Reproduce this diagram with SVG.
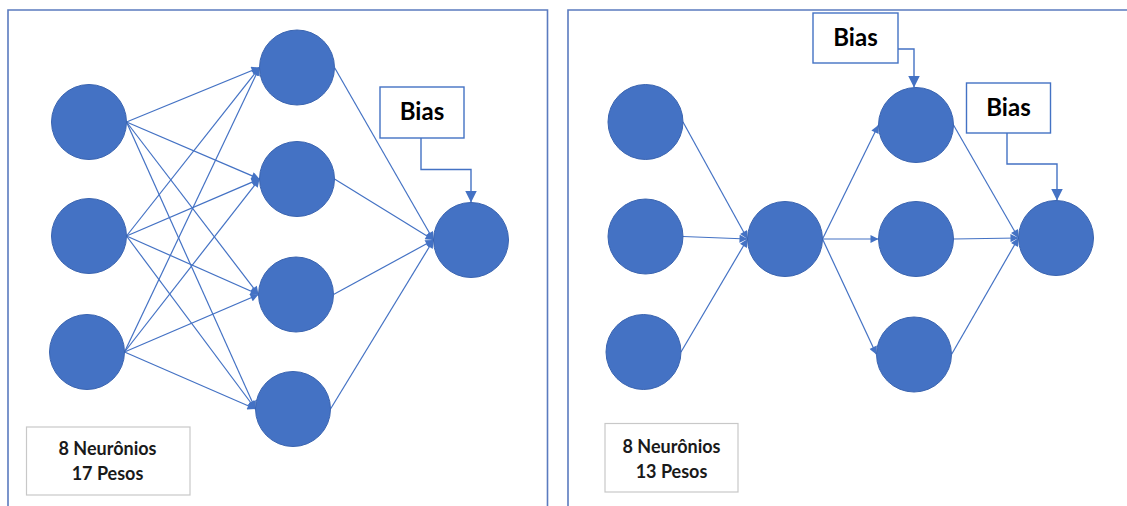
<svg xmlns="http://www.w3.org/2000/svg" width="1127" height="506" viewBox="0 0 1127 506">
  <style>
    .frame { fill: none; stroke: #5B7BBF; stroke-width: 1.6; }
    .neuron { fill: #4472C4; stroke: #3A64B0; stroke-width: 1; }
    .edge { fill: none; stroke: #4472C4; stroke-width: 1.2; marker-end: url(#arrow); }
    .bias-link { fill: none; stroke: #4472C4; stroke-width: 1.4; marker-end: url(#arrowBig); }
    .bias-box { fill: #FFFFFF; stroke: #4472C4; stroke-width: 1.4; }
    .count-box { fill: #FFFFFF; stroke: #C8C8C8; stroke-width: 1.2; }
    .bias-text { font-family: Lato, "Liberation Sans", sans-serif; font-weight: bold; font-size: 24px; fill: #000000; text-anchor: middle; }
    .count-text { font-family: Lato, "Liberation Sans", sans-serif; font-weight: bold; font-size: 18px; fill: #1A1A1A; text-anchor: middle; }
  </style>
  <defs>
    <marker id="arrow" viewBox="0 0 10 10" refX="10" refY="5" markerWidth="9" markerHeight="8" markerUnits="userSpaceOnUse" orient="auto">
      <path d="M0,0 L10,5 L0,10 z" fill="#4472C4"/>
    </marker>
    <marker id="arrowBig" viewBox="0 0 10 10" refX="10" refY="5" markerWidth="12" markerHeight="12" markerUnits="userSpaceOnUse" orient="auto">
      <path d="M0,0 L10,5 L0,10 z" fill="#4472C4"/>
    </marker>
  </defs>

  <rect width="1127" height="506" fill="#FFFFFF"/>

  <!-- panel frames -->
  <g id="frames">
    <path class="frame" d="M8,512 V10 H547.5 V512"/>
    <path class="frame" d="M568,512 V10 H1132"/>
  </g>

  <!-- connectors -->
  <g id="connectors">
    <!-- left network: inputs to hidden layer -->
    <line class="edge" x1="126.5" y1="122" x2="259.5" y2="67.5"/>
    <line class="edge" x1="126.5" y1="122" x2="259.5" y2="179"/>
    <line class="edge" x1="126.5" y1="122" x2="258.5" y2="294.5"/>
    <line class="edge" x1="126.5" y1="122" x2="255.5" y2="409"/>
    <line class="edge" x1="126.5" y1="236" x2="259.5" y2="67.5"/>
    <line class="edge" x1="126.5" y1="236" x2="259.5" y2="179"/>
    <line class="edge" x1="126.5" y1="236" x2="258.5" y2="294.5"/>
    <line class="edge" x1="126.5" y1="236" x2="255.5" y2="409"/>
    <line class="edge" x1="124.5" y1="352" x2="259.5" y2="67.5"/>
    <line class="edge" x1="124.5" y1="352" x2="259.5" y2="179"/>
    <line class="edge" x1="124.5" y1="352" x2="258.5" y2="294.5"/>
    <line class="edge" x1="124.5" y1="352" x2="255.5" y2="409"/>
    <!-- left network: hidden layer to output -->
    <line class="edge" x1="334.5" y1="67.5" x2="433.5" y2="240"/>
    <line class="edge" x1="334.5" y1="179" x2="433.5" y2="240"/>
    <line class="edge" x1="333.5" y1="294.5" x2="433.5" y2="240"/>
    <line class="edge" x1="330.5" y1="409" x2="433.5" y2="240"/>
    <!-- left network: bias -->
    <path class="bias-link" d="M421,138 V169.5 H471 V202.5"/>

    <!-- right network: inputs to single neuron -->
    <line class="edge" x1="683" y1="122" x2="747.5" y2="239"/>
    <line class="edge" x1="683" y1="236.5" x2="747.5" y2="239"/>
    <line class="edge" x1="681" y1="352" x2="747.5" y2="239"/>
    <!-- right network: single neuron to second layer -->
    <line class="edge" x1="822.5" y1="239" x2="878.5" y2="125"/>
    <line class="edge" x1="822.5" y1="239" x2="878.5" y2="239"/>
    <line class="edge" x1="822.5" y1="239" x2="876.5" y2="354.5"/>
    <!-- right network: second layer to output -->
    <line class="edge" x1="953.5" y1="125" x2="1018.5" y2="238"/>
    <line class="edge" x1="953.5" y1="239" x2="1018.5" y2="238"/>
    <line class="edge" x1="951.5" y1="354.5" x2="1018.5" y2="238"/>
    <!-- right network: biases -->
    <path class="bias-link" d="M898,49 H914 V87.5"/>
    <path class="bias-link" d="M1007,133 V164 H1057 V200.5"/>
  </g>

  <!-- left network nodes -->
  <g id="left-in-1"><circle class="neuron" cx="89" cy="122" r="37.5"/></g>
  <g id="left-in-2"><circle class="neuron" cx="89" cy="236" r="37.5"/></g>
  <g id="left-in-3"><circle class="neuron" cx="87" cy="352" r="37.5"/></g>
  <g id="left-hid-1"><circle class="neuron" cx="297" cy="67.5" r="37.5"/></g>
  <g id="left-hid-2"><circle class="neuron" cx="297" cy="179" r="37.5"/></g>
  <g id="left-hid-3"><circle class="neuron" cx="296" cy="294.5" r="37.5"/></g>
  <g id="left-hid-4"><circle class="neuron" cx="293" cy="409" r="37.5"/></g>
  <g id="left-out"><circle class="neuron" cx="471" cy="240" r="37.5"/></g>
  <g id="left-bias">
    <rect class="bias-box" x="380" y="87" width="84" height="51"/>
    <text class="bias-text" x="422" y="120">Bias</text>
  </g>
  <g id="left-count">
    <rect class="count-box" x="26.5" y="427" width="163.5" height="68"/>
    <text class="count-text" x="107.5" y="455">8 Neurônios</text>
    <text class="count-text" x="107.5" y="480">17 Pesos</text>
  </g>

  <!-- right network nodes -->
  <g id="right-in-1"><circle class="neuron" cx="645.5" cy="122" r="37.5"/></g>
  <g id="right-in-2"><circle class="neuron" cx="645.5" cy="236.5" r="37.5"/></g>
  <g id="right-in-3"><circle class="neuron" cx="643.5" cy="352" r="37.5"/></g>
  <g id="right-mid"><circle class="neuron" cx="785" cy="239" r="37.5"/></g>
  <g id="right-hid-1"><circle class="neuron" cx="916" cy="125" r="37.5"/></g>
  <g id="right-hid-2"><circle class="neuron" cx="916" cy="239" r="37.5"/></g>
  <g id="right-hid-3"><circle class="neuron" cx="914" cy="354.5" r="37.5"/></g>
  <g id="right-out"><circle class="neuron" cx="1056" cy="238" r="37.5"/></g>
  <g id="right-bias-1">
    <rect class="bias-box" x="813" y="13" width="85" height="50"/>
    <text class="bias-text" x="855.5" y="46">Bias</text>
  </g>
  <g id="right-bias-2">
    <rect class="bias-box" x="966.5" y="83" width="84" height="50"/>
    <text class="bias-text" x="1008.5" y="116">Bias</text>
  </g>
  <g id="right-count">
    <rect class="count-box" x="605" y="423.5" width="133" height="68.5"/>
    <text class="count-text" x="671.5" y="453">8 Neurônios</text>
    <text class="count-text" x="671.5" y="478">13 Pesos</text>
  </g>
</svg>
